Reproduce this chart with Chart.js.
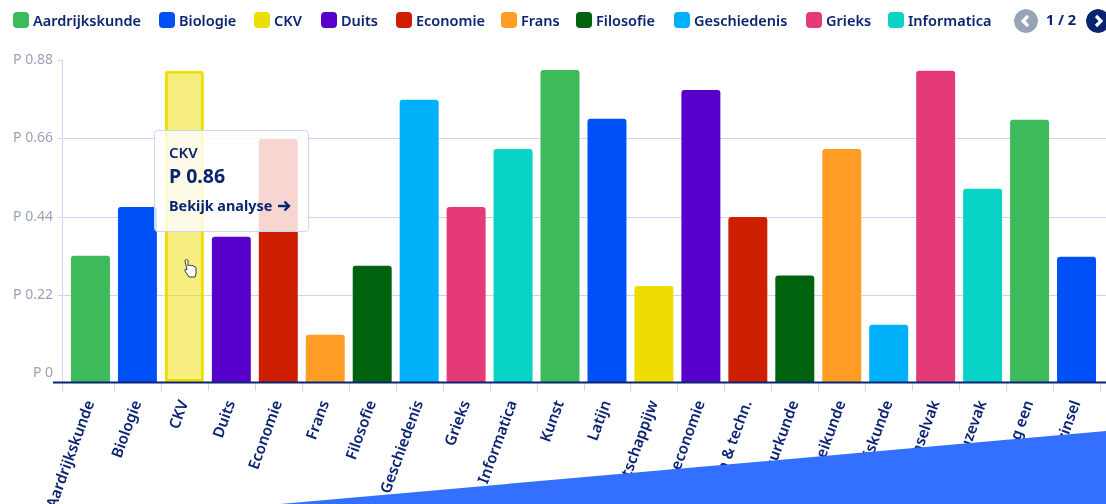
<!DOCTYPE html>
<html lang="nl">
<head>
<meta charset="utf-8">
<title>Analyse per vak</title>
<script src="https://cdn.jsdelivr.net/npm/chart.js@4"></script>
<style>
    html, body { margin: 0; padding: 0; background: #fff; overflow: hidden; }
    body { width: 1106px; height: 504px; position: relative; font-family: "Noto Sans", sans-serif; color: #0a2472; }
    #grafiek { position: absolute; left: 0; top: 0; }
    #legenda { position: absolute; left: 13px; top: 10px; height: 20px; display: flex; align-items: center; font-size: 14.5px; font-weight: 600; white-space: nowrap; }
    #legenda span.item { position: absolute; top: 0; display: flex; align-items: center; height: 20px; }
    #legenda i { display: inline-block; width: 16px; height: 16px; border-radius: 4px; margin-right: 4px; }
    #pager { position: absolute; left: 1014px; top: 9px; font-size: 14.5px; font-weight: 700; }
    .rond { position: absolute; top: 0; width: 24px; height: 24px; border-radius: 50%; }
    #pagina { position: absolute; left: 32px; top: 0; white-space: nowrap; }
    #tooltip { position: absolute; left: 154px; top: 130px; width: 155px; height: 102px; box-sizing: border-box; padding: 11px 14px; background: rgba(255,255,255,0.82); border: 1px solid #ccd6f2; border-radius: 4px; }
    #tooltip .vak { font-size: 15px; font-weight: 600; line-height: 20px; }
    #tooltip .waarde { font-size: 19.5px; font-weight: 700; line-height: 28px; }
    #tooltip .link { font-size: 14.4px; font-weight: 700; line-height: 20px; margin-top: 6px; white-space: nowrap; }
    #vlak, #cursor { position: absolute; left: 0; top: 0; pointer-events: none; }
</style>
</head>
<body>
<canvas id="grafiek" width="1106" height="504"></canvas>
<svg id="vlak" width="1106" height="504"><polygon points="280,504 1106,431 1106,504" fill="#3370ff"/></svg>
<div id="legenda"></div>
<div id="pager">
    <svg class="rond" style="left:0" viewBox="0 0 24 24"><circle cx="12" cy="12" r="12" fill="#97a3b6"/><path d="M14 7l-5 5 5 5" fill="none" stroke="#fff" stroke-width="3.2"/></svg>
    <span id="pagina">1 / 2</span>
    <svg class="rond" style="left:72px" viewBox="0 0 24 24"><circle cx="12" cy="12" r="12" fill="#0a2472"/><path d="M10 7l5 5-5 5" fill="none" stroke="#fff" stroke-width="3.2"/></svg>
</div>
<div id="tooltip">
    <div class="vak">CKV</div>
    <div class="waarde">P 0.86</div>
    <div class="link">Bekijk analyse <svg width="14" height="12" viewBox="0 0 14 12" style="vertical-align:-1px;margin-left:1px"><path d="M1 6h11M7.5 1.5L12 6l-4.5 4.5" fill="none" stroke="#0a2472" stroke-width="2.4"/></svg></div>
</div>
<svg id="cursor" width="1106" height="504"><path d="M185 261c0-2 3-2 3 0v5c0-1 3-1 3 0 0-1 3-1 3 1 1-1 2 0 2 1v6l-1 3h-6l-4-6c-1-2 1-2 2-1z" fill="#fff" stroke="#222" stroke-width="0.9"/></svg>

<script>
// Data grafiek
const vakken = ['Aardrijkskunde', 'Biologie', 'CKV', 'Duits', 'Economie', 'Frans', 'Filosofie', 'Geschiedenis', 'Grieks', 'Informatica', 'Kunst', 'Latijn', 'Maatschappijw', 'Bedrijfseconomie', 'Ontwerp & techn.', 'Natuurkunde', 'Scheikunde', 'Wiskunde', 'Wenselvak', 'Keuzevak', 'Spelling een', 'Verzinsel'];
const waarden = [0.33, 0.467, 0.85, 0.383, 0.658, 0.108, 0.302, 0.768, 0.467, 0.63, 0.852, 0.715, 0.245, 0.796, 0.439, 0.274, 0.63, 0.136, 0.85, 0.518, 0.712, 0.327];
const kleuren = ['#3dbb5a', '#0050f8', '#eedd00', '#5700cc', '#cf1f03', '#ff9d24', '#00610f', '#00b0f8', '#e43a78', '#08d3c6', '#3dbb5a', '#0050f8', '#eedd00', '#5700cc', '#cf1f03', '#00610f', '#ff9d24', '#00b0f8', '#e43a78', '#08d3c6', '#3dbb5a', '#0050f8'];
const yTicks = [0, 0.22, 0.44, 0.66, 0.88];
const legendaVakken = vakken.slice(0, 10);
const legendaX = [0, 146, 241, 308, 383, 488, 563, 661, 793, 875];
const actief = 2;
const onderkant = -0.025;

// Legenda
const legenda = document.getElementById('legenda');
legendaVakken.forEach((vak, i) => {
    const item = document.createElement('span');
    item.className = 'item';
    item.style.left = legendaX[i] + 'px';
    item.innerHTML = `<i style="background:${kleuren[i]}"></i>${vak}`;
    legenda.appendChild(item);
});

function metAlpha(hex, alpha) {
    const n = parseInt(hex.slice(1), 16);
    return `rgba(${n >> 16},${(n >> 8) & 255},${n & 255},${alpha})`;
}

// Rasterlijnen en assen lopen verder door dan het plotvlak
const assenPlugin = {
    id: 'assen',
    beforeDatasetsDraw(chart) {
        const { ctx, scales } = chart;
        const links = 62, rechts = 1106;
        ctx.save();
        ctx.strokeStyle = '#ccd4f4';
        ctx.lineWidth = 1;
        yTicks.slice(1).forEach(t => {
            const y = Math.round(scales.y.getPixelForValue(t)) + 0.5;
            ctx.beginPath();
            ctx.moveTo(links - 4, y);
            ctx.lineTo(t === 0.88 ? links : rechts, y);
            ctx.stroke();
        });
        const onder = scales.y.getPixelForValue(onderkant);
        const xs = [];
        for (let i = 1; i < vakken.length; i++) {
            xs.push((scales.x.getPixelForValue(i - 1) + scales.x.getPixelForValue(i)) / 2);
        }
        xs.push(scales.x.getPixelForValue(vakken.length - 1) + 23.5);
        ctx.beginPath();
        ctx.moveTo(links + 0.5, scales.y.getPixelForValue(0.88));
        ctx.lineTo(links + 0.5, onder + 9);
        xs.forEach(x => {
            ctx.moveTo(Math.round(x) + 0.5, onder);
            ctx.lineTo(Math.round(x) + 0.5, onder + 9);
        });
        ctx.stroke();
        ctx.restore();
    },
    afterDatasetsDraw(chart) {
        const { ctx, scales } = chart;
        const onder = scales.y.getPixelForValue(onderkant);
        ctx.save();
        ctx.strokeStyle = '#0a2472';
        ctx.lineWidth = 2;
        ctx.beginPath();
        ctx.moveTo(53, onder + 0.5);
        ctx.lineTo(1106, onder + 0.5);
        ctx.stroke();
        ctx.restore();
    }
};

new Chart(document.getElementById('grafiek').getContext('2d'), {
    type: 'bar',
    data: {
        labels: vakken,
        datasets: [{
            data: waarden,
            base: onderkant,
            backgroundColor: kleuren.map((k, i) => i === actief ? metAlpha(k, 0.5) : k),
            borderColor: kleuren.map((k, i) => i === actief ? k : 'transparent'),
            borderWidth: kleuren.map((k, i) => i === actief ? 3 : 0),
            borderRadius: { topLeft: 3, topRight: 3 },
            borderSkipped: false,
            barPercentage: 0.83,
            categoryPercentage: 1
        }]
    },
    options: {
        responsive: false,
        animation: false,
        layout: { padding: { top: 60, right: 6, left: 0, bottom: 0 } },
        plugins: { legend: { display: false }, tooltip: { enabled: false } },
        scales: {
            x: {
                afterFit: s => { s.height = 122; s.paddingLeft = 0; s.paddingRight = 0; },
                grid: { display: false },
                border: { display: false },
                ticks: {
                    autoSkip: false,
                    minRotation: 70,
                    maxRotation: 70,
                    padding: 8,
                    color: '#0a2472',
                    font: { family: '"Noto Sans"', size: 15.2, weight: '600' }
                }
            },
            y: {
                min: onderkant,
                max: 0.88,
                afterFit: s => { s.width = 67; },
                afterBuildTicks: s => { s.ticks = yTicks.map(v => ({ value: v })); },
                grid: { display: false },
                border: { display: false },
                ticks: {
                    padding: 6,
                    color: '#9aa3b2',
                    font: { family: '"Noto Sans"', size: 14 },
                    callback: v => 'P ' + v
                }
            }
        }
    },
    plugins: [assenPlugin]
});
</script>
</body>
</html>
